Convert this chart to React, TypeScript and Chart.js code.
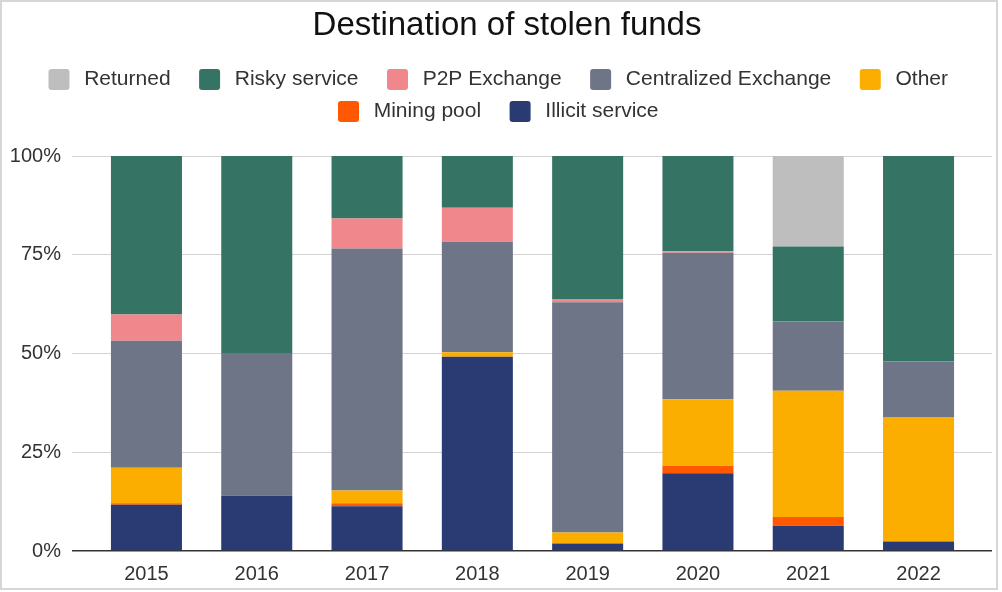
import { useEffect, useRef } from "react";
import { Chart, registerables } from "chart.js";

Chart.register(...registerables);

// Data (shares in %)
const years = ["2015", "2016", "2017", "2018", "2019", "2020", "2021", "2022"];
const illicitService = [11.7, 14.0, 11.3, 49.2, 1.9, 19.7, 6.4, 2.4];
const miningPool = [0.4, 0, 0.8, 0, 0, 1.9, 2.2, 0];
const other = [9.0, 0, 3.2, 1.1, 2.8, 16.8, 32.0, 31.5];
const centralizedExchange = [32.1, 36.1, 61.3, 28.0, 58.3, 37.1, 17.5, 14.1];
const p2pExchange = [6.7, 0, 7.6, 8.6, 0.8, 0.4, 0, 0];
const riskyService = [40.1, 49.9, 15.8, 13.1, 36.2, 24.1, 19.0, 52.0];
const returned = [0, 0, 0, 0, 0, 0, 22.9, 0];
const yTicks = [0, 25, 50, 75, 100];

// bottom of the stack first
const series = [
  { label: "Illicit service", values: illicitService, color: "#2a3a72" },
  { label: "Mining pool", values: miningPool, color: "#ff5800" },
  { label: "Other", values: other, color: "#fbad00" },
  { label: "Centralized Exchange", values: centralizedExchange, color: "#6e7586" },
  { label: "P2P Exchange", values: p2pExchange, color: "#f0878c" },
  { label: "Risky service", values: riskyService, color: "#357464" },
  { label: "Returned", values: returned, color: "#bebebe" },
];

// extra space between the legend and the plot
const legendGap = {
  id: "legendGap",
  beforeInit(chart: any) {
    const legend = chart.legend;
    if (!legend) return;
    const fit = legend.fit;
    legend.fit = function () {
      fit.call(this);
      this.height += 24;
    };
  },
};

const StolenFundsChart = () => {
  const chartRef = useRef<HTMLCanvasElement>(null);
  const chartInstance = useRef<Chart | null>(null);

  useEffect(() => {
    if (!chartRef.current) return;
    if (chartInstance.current) chartInstance.current.destroy();

    Chart.defaults.font.family = "'Liberation Sans', Arial, sans-serif";

    chartInstance.current = new Chart(chartRef.current, {
      type: "bar",
      data: {
        datasets: series.map((s) => ({
          label: s.label,
          data: s.values.map((v, i) => ({ x: i, y: v })),
          backgroundColor: s.color,
          borderWidth: 0,
          categoryPercentage: 0.644,
          barPercentage: 1,
        })),
      },
      options: {
        animation: false,
        responsive: true,
        maintainAspectRatio: false,
        layout: { padding: { left: 4, right: 0, top: 0, bottom: 3 } },
        plugins: {
          title: {
            display: true,
            text: "Destination of stolen funds",
            color: "#111",
            font: { size: 33, weight: "normal" },
            padding: { top: 4, bottom: 12.4 },
          },
          legend: {
            position: "top",
            reverse: true,
            labels: {
              boxWidth: 21,
              boxHeight: 21,
              padding: 11,
              color: "#333",
              font: { size: 21 },
              useBorderRadius: true,
              borderRadius: 3,
              generateLabels: (chart: any) =>
                Chart.defaults.plugins.legend.labels
                  .generateLabels(chart)
                  .map((item: any) => ({ ...item, text: "\u2009" + item.text + "   " })),
            },
          },
          tooltip: { enabled: false },
        },
        scales: {
          x: {
            type: "linear",
            stacked: true,
            offset: false,
            min: -0.675,
            max: 7.666,
            afterFit: (scale: any) => {
              scale.height = 34;
            },
            grid: { display: false, drawTicks: false },
            border: { display: false },
            ticks: {
              stepSize: 1,
              includeBounds: false,
              autoSkip: false,
              maxRotation: 0,
              padding: 11,
              color: "#333",
              font: { size: 20 },
              callback: (v: any) => (Number.isInteger(v) && years[v] ? years[v] : ""),
            },
          },
          y: {
            stacked: true,
            min: 0,
            max: 100,
            afterFit: (scale: any) => {
              scale.width = 66;
            },
            afterBuildTicks: (scale: any) => {
              scale.ticks = yTicks.map((value) => ({ value }));
            },
            border: { display: false },
            grid: {
              drawTicks: false,
              color: (ctx: any) => (ctx.tick && ctx.tick.value === 0 ? "#333" : "#d3d3d3"),
              lineWidth: (ctx: any) => (ctx.tick && ctx.tick.value === 0 ? 1.5 : 1),
            },
            ticks: {
              padding: 11,
              color: "#333",
              font: { size: 20 },
              callback: (v: any) => v + "%",
            },
          },
          // empty strip on the right so the plot ends where the grid ends
          yRight: {
            position: "right",
            grid: { display: false, drawTicks: false },
            border: { display: false },
            ticks: { display: false },
            afterFit: (scale: any) => {
              scale.width = 16;
            },
          },
        },
      },
      plugins: [legendGap],
    });

    return () => {
      if (chartInstance.current) {
        chartInstance.current.destroy();
        chartInstance.current = null;
      }
    };
  }, []);

  return (
    <div
      style={{
        position: "fixed",
        left: 0,
        top: 0,
        width: 998,
        height: 590,
        boxSizing: "border-box",
        border: "2px solid #d6d6d6",
        background: "#fff",
        overflow: "hidden",
      }}
    >
      <div style={{ position: "relative", width: 1006, height: 586 }}>
        <canvas ref={chartRef} />
      </div>
    </div>
  );
};

export default function App() {
  return <StolenFundsChart />;
}
